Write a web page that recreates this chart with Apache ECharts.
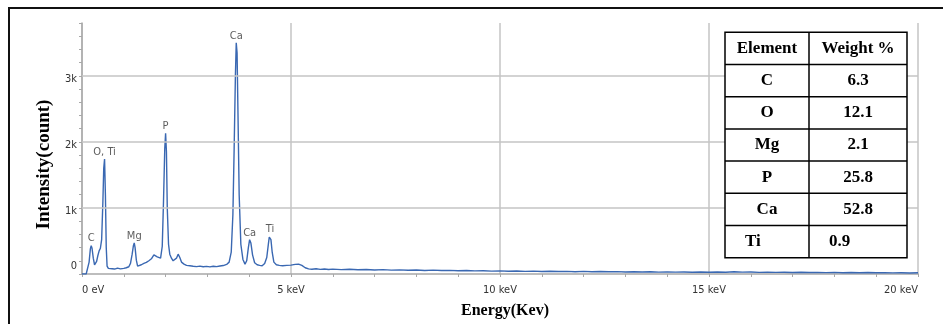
<!DOCTYPE html>
<html><head><meta charset="utf-8">
<script src="https://cdn.jsdelivr.net/npm/echarts@6/dist/echarts.min.js"></script>
<style>html,body{margin:0;padding:0;background:#fff}#c{width:943px;height:324px}</style>
</head><body><div id="c"></div>
<script>
// ---- spectrum data (energy in keV, intensity in counts) ----
const energyKeV = [
  0, 0.05, 0.10, 0.13, 0.17, 0.20, 0.22, 0.24, 0.27, 0.30, 0.32, 0.35, 0.38, 0.41, 0.44, 0.47, 0.50, 0.52, 0.54, 0.56, 0.58, 0.60, 0.63,
  0.67, 0.72, 0.78, 0.85, 0.92, 1.00, 1.06, 1.12, 1.16, 1.20, 1.23, 1.25, 1.27, 1.30, 1.33, 1.37,
  1.42, 1.48, 1.54, 1.60, 1.66, 1.72, 1.76, 1.80, 1.84, 1.88, 1.92, 1.95, 1.98, 2.00, 2.02, 2.04, 2.07, 2.10,
  2.14, 2.18, 2.22, 2.26, 2.30, 2.34, 2.38, 2.44, 2.50, 2.58, 2.66, 2.74, 2.82, 2.90, 2.98, 3.06, 3.14, 3.22, 3.30, 3.38, 3.46,
  3.52, 3.57, 3.61, 3.64, 3.67, 3.69, 3.71, 3.73, 3.76, 3.80, 3.85, 3.90, 3.94, 3.98, 4.01, 4.04, 4.08, 4.13,
  4.19, 4.25, 4.31, 4.37, 4.42, 4.46, 4.48, 4.50, 4.52, 4.55, 4.59, 4.65, 4.72, 4.80, 4.90, 5.00, 5.10, 5.18, 5.26, 5.34, 5.42, 5.50, 5.60, 5.70, 5.80, 5.90, 6.00,
  6.2, 6.4, 6.6, 6.8, 7.0, 7.2, 7.4, 7.6, 7.8, 8.0,
  8.2, 8.4, 8.6, 8.8, 9.0, 9.2, 9.4, 9.6, 9.8, 10.0,
  10.2, 10.4, 10.6, 10.8, 11.0, 11.2, 11.4, 11.6, 11.8, 12.0,
  12.2, 12.4, 12.6, 12.8, 13.0, 13.2, 13.4, 13.6, 13.8, 14.0,
  14.2, 14.4, 14.6, 14.8, 15.0, 15.2, 15.4, 15.6, 15.8, 16.0,
  16.2, 16.4, 16.6, 16.8, 17.0, 17.2, 17.4, 17.6, 17.8, 18.0,
  18.2, 18.4, 18.6, 18.8, 19.0, 19.2, 19.4, 19.6, 19.8, 20.0
];
const counts = [
  0, 0, 0, 10, 180, 380, 430, 390, 240, 140, 125, 190, 280, 350, 390, 520, 1100, 1600, 1740, 1200, 400, 120, 85,
  70, 80, 75, 90, 78, 85, 95, 110, 160, 300, 430, 470, 400, 210, 120, 125,
  140, 160, 175, 200, 230, 290, 310, 260, 230, 240, 420, 1100, 1900, 2130, 1850, 1000, 450, 300,
  240, 200, 190, 240, 300, 250, 180, 150, 130, 125, 118, 112, 120, 110, 116, 108, 118, 112, 122, 128, 145,
  180, 330, 900, 1900, 3000, 3500, 3350, 2500, 1200, 450, 220, 150, 200, 400, 520, 470, 290, 170,
  140, 130, 125, 160, 250, 460, 560, 580, 520, 330, 180, 140, 130, 125, 130, 135, 145, 150, 130, 95, 78, 72, 80, 70, 76, 68, 74,
  66, 72, 64, 68, 61, 66, 58, 63, 57, 60,
  54, 58, 52, 55, 49, 53, 47, 50, 44, 47,
  42, 45, 40, 44, 38, 42, 37, 40, 35, 39,
  34, 37, 33, 36, 31, 35, 30, 33, 29, 32,
  28, 31, 27, 30, 26, 30, 27, 33, 28, 31,
  25, 28, 24, 27, 23, 26, 22, 25, 21, 24,
  20, 23, 19, 22, 18, 21, 17, 20, 16, 18
];
// ---- peak annotations ----
const peakNames  = ['C', 'O, Ti', 'Mg', 'P', 'Ca', 'Ca', 'Ti'];
const peakEnergy = [0.22, 0.54, 1.25, 2.00, 3.69, 4.01, 4.50];
const peakCounts = [430, 1740, 470, 2130, 3500, 520, 580];
// ---- axis ticks ----
const xLabelValues = [0, 5, 10, 15, 20];
const yLabelValues = [0, 1000, 2000, 3000];
// ---- composition table ----
const tableHeader   = ['Element', 'Weight %'];
const tableElements = ['C', 'O', 'Mg', 'P', 'Ca', 'Ti'];
const tableWeights  = ['6.3', '12.1', '2.1', '25.8', '52.8', '0.9'];

const narrow = '"Liberation Sans Narrow", "DejaVu Sans Condensed", "Roboto", sans-serif';
const serif = '"Liberation Serif", "DejaVu Serif", serif';

const spectrum = energyKeV.map((e, i) => [e, counts[i]]);

// table graphic
const tX = 725, tW = 182, tCol = 84, tY = 32.3, rowH = 32.2;
const nRows = tableElements.length + 1;
const tableGraphic = [];
tableGraphic.push({ type: 'rect', shape: { x: tX, y: tY, width: tW, height: rowH * nRows }, style: { fill: '#fff', stroke: '#000', lineWidth: 1.5 }, z: 10 });
for (let r = 1; r < nRows; r++) {
  tableGraphic.push({ type: 'line', shape: { x1: tX, y1: tY + r * rowH, x2: tX + tW, y2: tY + r * rowH }, style: { stroke: '#000', lineWidth: 1.5 }, z: 11 });
}
tableGraphic.push({ type: 'line', shape: { x1: tX + tCol, y1: tY, x2: tX + tCol, y2: tY + rowH * nRows }, style: { stroke: '#000', lineWidth: 1.5 }, z: 11 });
const cellFont = 'bold 17px ' + serif;
function cellText(txt, x, y, align) {
  return { type: 'text', x: x, y: y, z: 12, style: { text: txt, font: cellFont, fill: '#000', align: align, verticalAlign: 'middle' } };
}
tableGraphic.push(cellText(tableHeader[0], tX + tCol / 2, tY + rowH / 2, 'center'));
tableGraphic.push(cellText(tableHeader[1], tX + tCol + (tW - tCol) / 2, tY + rowH / 2, 'center'));
tableElements.forEach((el, i) => {
  const cy = tY + (i + 1.5) * rowH;
  const last = i === tableElements.length - 1;
  tableGraphic.push(cellText(el, last ? tX + 20 : tX + tCol / 2, cy, last ? 'left' : 'center'));
  tableGraphic.push(cellText(tableWeights[i], last ? tX + tCol + 20 : tX + tCol + (tW - tCol) / 2, cy, last ? 'left' : 'center'));
});

const chart = echarts.init(document.getElementById('c'), null, { renderer: 'canvas' });
chart.setOption({
  animation: false,
  backgroundColor: '#fff',
  grid: { left: 82, right: 25, top: 23, bottom: 47, containLabel: false },
  xAxis: {
    type: 'value', min: 0, max: 20, interval: 5,
    axisLine: { show: true, lineStyle: { color: '#a8a8a8', width: 1.5 } },
    axisTick: { show: true, length: 3, lineStyle: { color: '#a8a8a8' } },
    minorTick: { show: true, splitNumber: 5, length: 3, lineStyle: { color: '#a8a8a8' } },
    splitLine: { show: true, lineStyle: { color: '#c4c4c4', width: 1.5 } },
    axisLabel: {
      margin: 11, fontSize: 11, color: '#333', fontFamily: narrow,
      alignMinLabel: 'left', alignMaxLabel: 'right',
      formatter: v => xLabelValues.includes(v) ? (v === 0 ? '0 eV' : v + ' keV') : ''
    },
    name: 'Energy(Kev)', nameLocation: 'middle', nameGap: 29,
    nameTextStyle: { fontFamily: serif, fontWeight: 'bold', fontSize: 16, color: '#000', padding: [0, 0, 0, 10] }
  },
  yAxis: {
    type: 'value', min: 0, max: 3800, interval: 200,
    axisLine: { show: true, lineStyle: { color: '#a8a8a8', width: 1.5 } },
    axisTick: { show: true, length: 3, lineStyle: { color: '#a8a8a8' } },
    splitLine: { show: false },
    axisLabel: {
      margin: 5, fontSize: 11, color: '#333', fontFamily: narrow,
      formatter: v => yLabelValues.includes(v) ? (v === 0 ? '{z|0}' : '{k|' + (v / 1000) + 'k}') : '',
      rich: {
        z: { fontSize: 11, color: '#333', fontFamily: narrow, padding: [0, 0, 15, 0] },
        k: { fontSize: 11, color: '#333', fontFamily: narrow, padding: [6, 0, 0, 0] }
      }
    },
    name: 'Intensity(count)', nameLocation: 'middle', nameGap: 22,
    nameTextStyle: { fontFamily: serif, fontWeight: 'bold', fontSize: 19, color: '#000', padding: [0, 32, 0, 0] }
  },
  series: [
    {
      type: 'line', data: [], z: 1, silent: true,
      markLine: {
        silent: true, symbol: 'none', animation: false,
        label: { show: false },
        lineStyle: { color: '#c4c4c4', width: 1.5, type: 'solid' },
        data: yLabelValues.filter(v => v > 0).map(v => ({ yAxis: v }))
      }
    },
    {
      type: 'line', data: spectrum, showSymbol: false, z: 3,
      lineStyle: { color: '#3a68b2', width: 1.4 }
    },
    {
      type: 'scatter', z: 4, symbolSize: 1, itemStyle: { color: 'rgba(0,0,0,0)' },
      data: peakEnergy.map((e, i) => ({ value: [e, peakCounts[i]], name: peakNames[i] })),
      label: { show: true, position: 'top', distance: 1, formatter: '{b}', fontSize: 11, color: '#333', fontFamily: narrow }
    }
  ],
  graphic: [
    { type: 'rect', shape: { x: 9, y: 8, width: 945, height: 340 }, style: { fill: 'none', stroke: '#111', lineWidth: 2 }, z: 20, silent: true },
    ...tableGraphic
  ]
});
</script></body></html>
